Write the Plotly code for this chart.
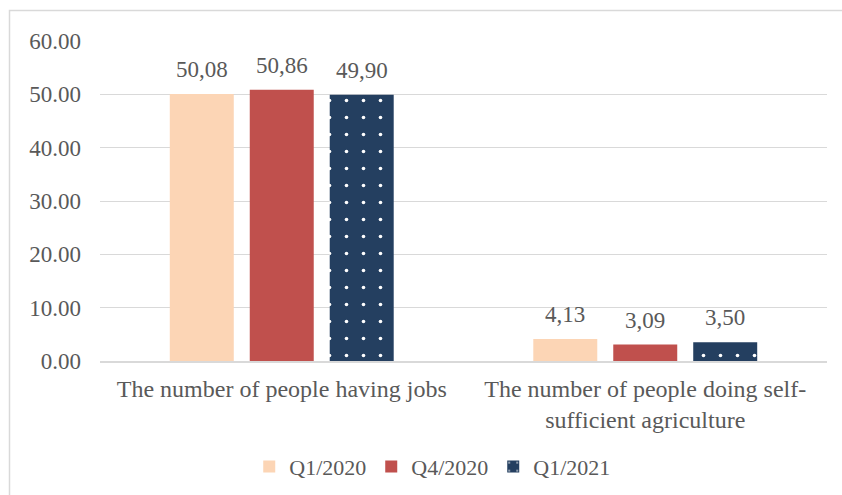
import plotly.graph_objects as go

categories = ["The number of people having jobs",
              "The number of people doing self-<br>sufficient agriculture"]
series_names = ["Q1/2020", "Q4/2020", "Q1/2021"]
q1_2020 = [50.08, 4.13]
q4_2020 = [50.86, 3.09]
q1_2021 = [49.90, 3.50]
tick_vals = [0, 10, 20, 30, 40, 50, 60]
tick_text = ["0.00", "10.00", "20.00", "30.00", "40.00", "50.00", "60.00"]

colors = ["#FCD5B5", "#C0504D", "#243F60"]
font_family = "Liberation Serif, Times New Roman, serif"
text_color = "#595959"

def fmt(v):
    return f"{v:.2f}".replace(".", ",")

L, R, T, B = 100, 15, 41, 134
W, H = 842, 495
pw, ph = W - L - R, H - T - B
cat_px = pw / len(categories)
bargap, bargroupgap = 0.34, 0.2
slot_px = cat_px * (1 - bargap) / len(series_names)

fig = go.Figure()
annotations = []
all_series = [q1_2020, q4_2020, q1_2021]
for i, (name, vals, col) in enumerate(zip(series_names, all_series, colors)):
    marker = dict(color=col, line=dict(width=0))
    if name == "Q1/2021":
        marker["pattern"] = dict(shape=".", fgcolor="white", bgcolor=col,
                                 size=17, solidity=0.035, fillmode="replace")
    fig.add_trace(go.Bar(x=categories, y=vals, name=name, marker=marker))
    for c, v in zip(categories, vals):
        annotations.append(dict(
            x=c, y=v, xref="x", yref="y", text=fmt(v), showarrow=False,
            xshift=(i - 1) * slot_px, yshift=10, yanchor="bottom",
            font=dict(family=font_family, size=23, color=text_color)))

fig.update_layout(
    width=W, height=H,
    margin=dict(l=L, r=R, t=T, b=B, autoexpand=False),
    paper_bgcolor="white", plot_bgcolor="white",
    barmode="group", bargap=bargap, bargroupgap=bargroupgap,
    font=dict(family=font_family, size=22, color=text_color),
    showlegend=True,
    legend=dict(orientation="h", x=0.457, xanchor="center", y=-0.265, yanchor="top",
                font=dict(family=font_family, size=22, color=text_color),
                itemwidth=30, traceorder="normal"),
    xaxis=dict(showgrid=False, showline=True, linecolor="#D9D9D9", linewidth=1.5,
               ticks="", automargin=False, ticklabelstandoff=5,
               tickfont=dict(size=24, color=text_color)),
    yaxis=dict(range=[0, 60], tickvals=tick_vals, ticktext=tick_text,
               showgrid=True, gridcolor="#D9D9D9", gridwidth=1,
               zeroline=False, showline=False, ticks="", automargin=False,
               ticklabelstandoff=18,
               tickfont=dict(size=23, color=text_color)),
    annotations=annotations,
    shapes=[dict(type="rect", xref="paper", yref="paper",
                 x0=(9.5 - L) / pw, x1=(W + 10 - L) / pw,
                 y0=1 - (H + 10 - T) / ph, y1=1 + (T - 10.5) / ph,
                 line=dict(color="#D9D9D9", width=1.5), fillcolor="rgba(0,0,0,0)",
                 layer="below")],
)

fig.write_html("out.html")
